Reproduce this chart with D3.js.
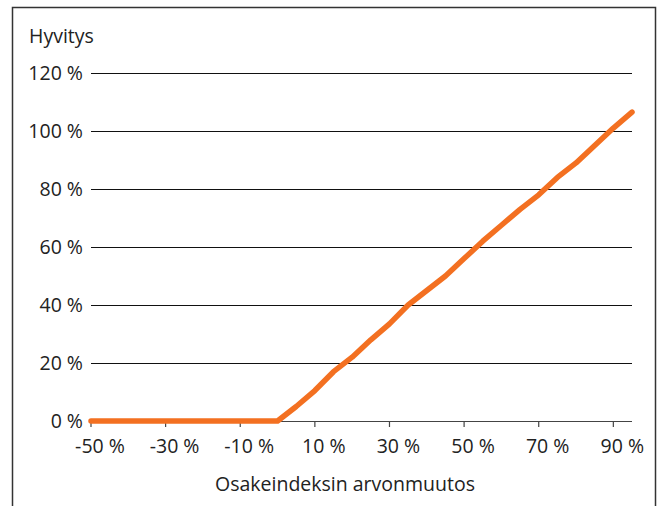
<!DOCTYPE html>
<html>
  <head>
    <style>
      body { margin: 0; background: #fff; }
      text { font-family: "Open Sans", "Noto Sans", sans-serif; fill: #222; }
    </style>
    <script src="https://d3js.org/d3.v7.min.js"></script>
  </head>
  <body>
    <svg id="chart" width="664" height="506"></svg>
    <script>
      // index change (%) and compensation (%)
      var change = [-50, -45, -40, -35, -30, -25, -20, -15, -10, -5, 0, 5, 10, 15, 20, 25, 30, 35, 40, 45, 50, 55, 60, 65, 70, 75, 80, 85, 90, 95];
      var payout = [0, 0, 0, 0, 0, 0, 0, 0, 0, 0, 0, 5, 10.5, 17, 22, 28, 33.5, 40, 45, 50, 56, 62, 67.5, 73, 78, 84, 89, 95, 101, 106.5];
      var xTicks = [-50, -30, -10, 10, 30, 50, 70, 90];
      var yTicks = [0, 20, 40, 60, 80, 100, 120];
      var yTitle = "Hyvitys";
      var xTitle = "Osakeindeksin arvonmuutos";

      var svg = d3.select("#chart");
      var fs = 19.5;

      // frame
      svg.append("rect")
        .attr("x", 12.5).attr("y", 7.5)
        .attr("width", 643).attr("height", 520)
        .attr("fill", "none").attr("stroke", "#333").attr("stroke-width", 1.5);

      var x = d3.scaleLinear().domain([-50, 95]).range([91, 632]);
      var y = d3.scaleLinear().domain([0, 120]).range([421, 73]);

      // gridlines
      svg.selectAll(".grid")
        .data(yTicks.filter(function(d) { return d > 0; }))
        .enter().append("line")
        .attr("x1", x(-50)).attr("x2", x(95))
        .attr("y1", function(d) { return y(d) + 0.5; })
        .attr("y2", function(d) { return y(d) + 0.5; })
        .attr("stroke", "#111").attr("stroke-width", 1);

      // y labels
      svg.selectAll(".ylab")
        .data(yTicks)
        .enter().append("text")
        .attr("x", 83)
        .attr("y", function(d) { return y(d) + 7; })
        .attr("text-anchor", "end")
        .attr("font-size", fs)
        .text(function(d) { return d + " %"; });

      // x axis line and ticks
      svg.append("line")
        .attr("x1", x(-50)).attr("x2", x(95))
        .attr("y1", y(0) + 0.5).attr("y2", y(0) + 0.5)
        .attr("stroke", "#444").attr("stroke-width", 1.2);
      svg.selectAll(".xtick")
        .data(xTicks)
        .enter().append("line")
        .attr("x1", function(d) { return x(d); })
        .attr("x2", function(d) { return x(d); })
        .attr("y1", y(0)).attr("y2", y(0) + 6)
        .attr("stroke", "#444").attr("stroke-width", 1.2);
      svg.selectAll(".xlab")
        .data(xTicks)
        .enter().append("text")
        .attr("x", function(d) { return x(d) + 9; })
        .attr("y", 453)
        .attr("text-anchor", "middle")
        .attr("font-size", fs)
        .text(function(d) { return d + " %"; });

      // titles
      svg.append("text").attr("x", 29).attr("y", 43)
        .attr("font-size", fs).text(yTitle);
      svg.append("text").attr("x", 345).attr("y", 491)
        .attr("text-anchor", "middle")
        .attr("font-size", fs).text(xTitle);

      // line
      var line = d3.line()
        .x(function(d, i) { return x(change[i]); })
        .y(function(d) { return y(d); });
      svg.append("path")
        .datum(payout)
        .attr("d", line)
        .attr("fill", "none")
        .attr("stroke", "#f37021")
        .attr("stroke-width", 5.5)
        .attr("stroke-linecap", "round")
        .attr("stroke-linejoin", "round");
    </script>
  </body>
</html>
